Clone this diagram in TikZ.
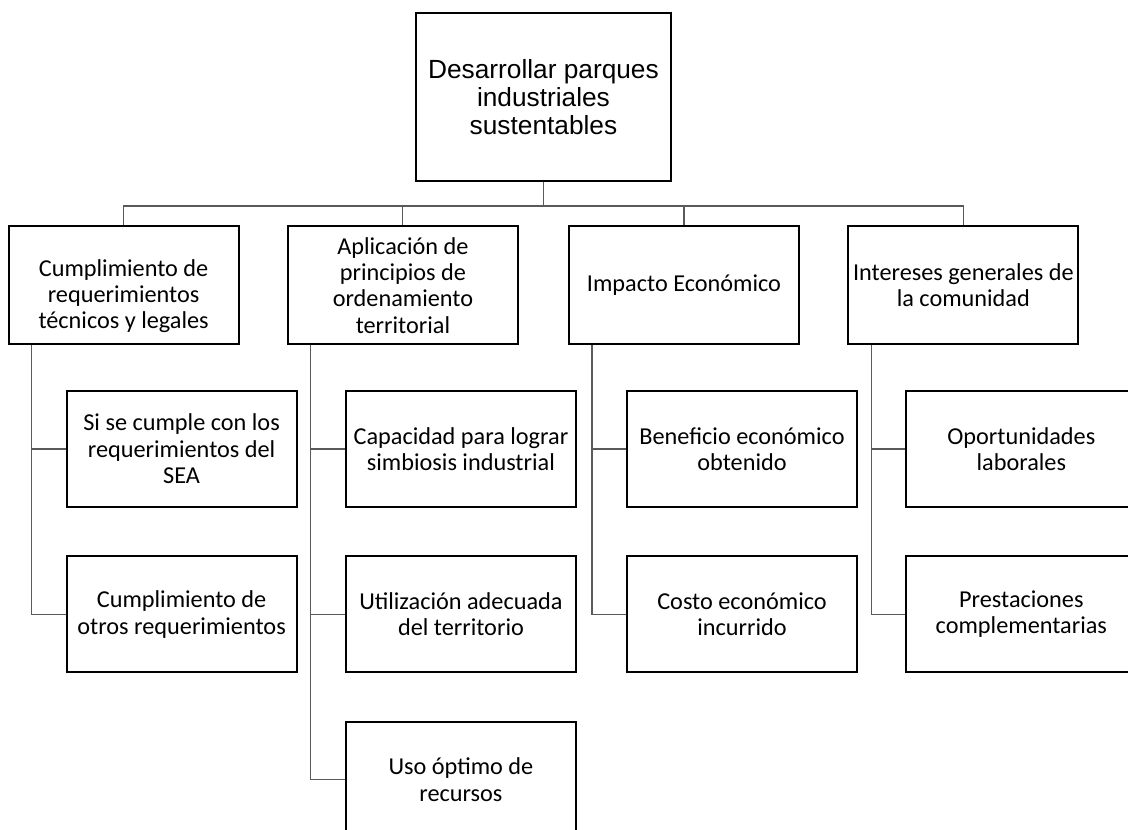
\documentclass[tikz,border=0pt]{standalone}
\usepackage{fontspec}
\setmainfont{Carlito}
\newfontfamily\titlefont{Liberation Sans}
\usetikzlibrary{positioning}
\definecolor{linegray}{HTML}{5A5A5A}
\tikzset{
  goal/.style={
    rectangle,
    draw=black,
    line width=1.5pt,
    align=center,
    inner sep=2pt,
    minimum width=191pt,
    minimum height=126pt,
    font=\titlefont\fontsize{19.7}{21}\selectfont
  },
  crit/.style={
    rectangle,
    draw=black,
    line width=1.5pt,
    align=center,
    inner sep=2pt,
    minimum width=172.5pt,
    minimum height=88.5pt,
    font=\fontsize{18.2}{19.8}\selectfont
  },
  subbox/.style={
    rectangle,
    draw=black,
    line width=1.5pt,
    align=center,
    inner sep=2pt,
    minimum width=172.5pt,
    minimum height=87pt,
    font=\fontsize{18.2}{19.8}\selectfont
  },
  line/.style={draw=linegray, line width=0.8pt}
}
\begin{document}
\begin{tikzpicture}[node distance=35.5pt]
  \useasboundingbox (0,0) rectangle (846pt,-622.5pt);
  \node[goal] (top) at (407.6pt,-72.75pt) {Desarrollar parques\\industriales\\sustentables};
  \node[crit, below left=32.5pt and 18.4pt of top.south] (territorio) {Aplicación de\\principios de\\ordenamiento\\territorial};
  \node[crit, below right=32.5pt and 18.4pt of top.south] (economia) {Impacto Económico};
  \node[crit, left=of territorio] (legal) {\rule{0pt}{29pt}Cumplimiento de\\requerimientos\\técnicos y legales};
  \node[crit, right=of economia] (comunidad) {Intereses generales de\\la comunidad};

  \node[subbox, below right=33.5pt and 43.5pt of legal.south west] (sea) {Si se cumple con los\\requerimientos del\\SEA};
  \node[subbox, below=of sea] (otros) {Cumplimiento de\\otros requerimientos};
  \node[subbox, below right=33.5pt and 43.5pt of territorio.south west] (simbiosis) {Capacidad para lograr\\simbiosis industrial};
  \node[subbox, below=of simbiosis] (uso) {Utilización adecuada\\del territorio};
  \node[subbox, below=of uso] (recursos) {Uso óptimo de\\recursos};
  \node[subbox, below right=33.5pt and 43.5pt of economia.south west] (beneficio) {Beneficio económico\\obtenido};
  \node[subbox, below=of beneficio] (costo) {Costo económico\\incurrido};
  \node[subbox, below right=33.5pt and 43.5pt of comunidad.south west] (laboral) {Oportunidades\\laborales};
  \node[subbox, below=of laboral] (prestacion) {Prestaciones\\complementarias};

  \coordinate[below=18pt of top.south] (bar);
  \draw[line] (top.south) -- (bar);
  \foreach \c in {legal,territorio,economia,comunidad}
    \draw[line] (bar) -| (\c.north);
  \foreach \p/\s in {legal/sea,legal/otros,territorio/simbiosis,territorio/uso,territorio/recursos,economia/beneficio,economia/costo,comunidad/laboral,comunidad/prestacion}
    \draw[line] ([xshift=18pt]\p.south west) |- (\s.west);
\end{tikzpicture}
\end{document}
